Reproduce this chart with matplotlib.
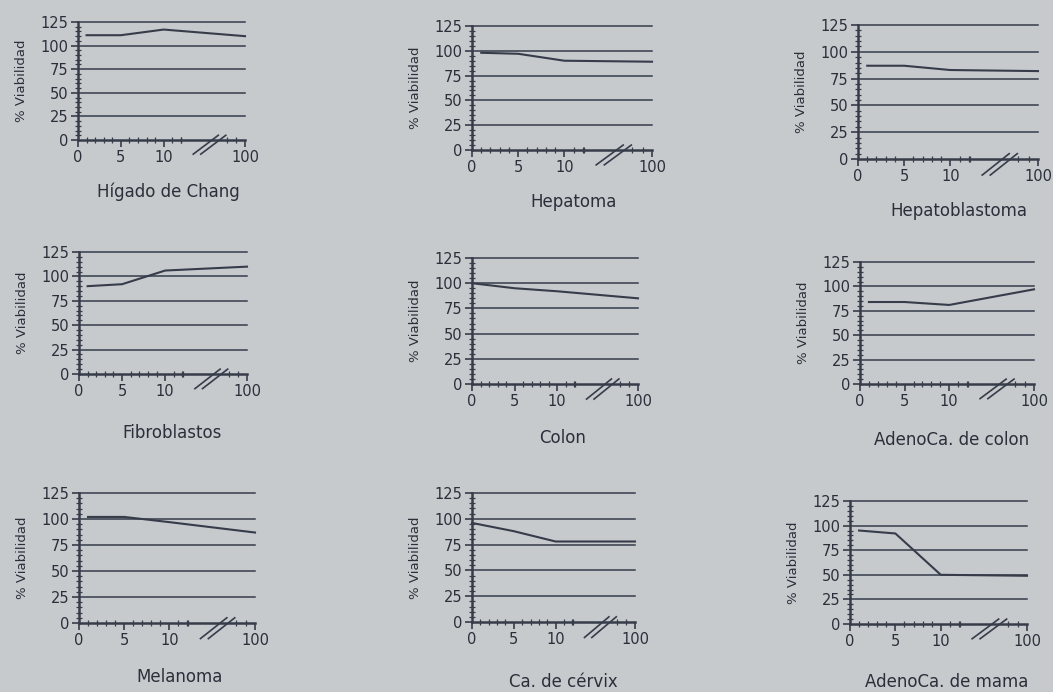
import matplotlib
matplotlib.use("Agg")
import matplotlib.pyplot as plt
import numpy as np

# cell lines and viability (%) versus dose
titles = ["Hígado de Chang", "Hepatoma", "Hepatoblastoma",
          "Fibroblastos", "Colon", "AdenoCa. de colon",
          "Melanoma", "Ca. de cérvix", "AdenoCa. de mama"]

doses = {
    "Hígado de Chang": [1, 5, 10, 100],
    "Hepatoma": [1, 5, 10, 100],
    "Hepatoblastoma": [1, 5, 10, 100],
    "Fibroblastos": [1, 5, 10, 100],
    "Colon": [0, 5, 10, 100],
    "AdenoCa. de colon": [1, 5, 10, 100],
    "Melanoma": [1, 5, 10, 100],
    "Ca. de cérvix": [0, 5, 10, 100],
    "AdenoCa. de mama": [1, 5, 10, 100],
}
viability = {
    "Hígado de Chang": [111, 111, 117, 110],
    "Hepatoma": [98, 97, 90, 89],
    "Hepatoblastoma": [87, 87, 83, 82],
    "Fibroblastos": [90, 92, 106, 110],
    "Colon": [100, 95, 92, 85],
    "AdenoCa. de colon": [84, 84, 81, 97],
    "Melanoma": [102, 102, 97, 87],
    "Ca. de cérvix": [96, 88, 78, 78],
    "AdenoCa. de mama": [95, 92, 50, 49],
}
y_major = [0, 25, 50, 75, 100, 125]
x_major = [0, 5, 10, 100]
x_minor = list(range(1, 14)) + [75, 88]

# panel boxes in pixels: left, top (y=125), right (x=100), bottom (y=0)
boxes = [(78, 22, 245, 140), (472, 26, 652, 150), (858, 25, 1038, 159),
         (79, 252, 247, 374), (472, 258, 638, 384), (860, 262, 1034, 384),
         (79, 493, 255, 623), (472, 493, 635, 622), (850, 501, 1027, 624)]
title_pos = [(168, 192), (574, 202), (959, 211),
             (172, 433), (563, 438), (952, 440),
             (180, 677), (563, 682), (947, 682)]

W, H = 1053, 692
bg = "#c7cacd"
ink = "#2a2f3a"
line_c = "#363c4a"

plt.rcParams["font.family"] = "DejaVu Sans"


def fwd(x):
    x = np.asarray(x, dtype=float)
    return np.where(x <= 12, x, 12 + (x - 12) * 7.5 / 88)


def inv(x):
    x = np.asarray(x, dtype=float)
    return np.where(x <= 12, x, 12 + (x - 12) * 88 / 7.5)


fig = plt.figure(figsize=(W / 100, H / 100), dpi=100, facecolor=bg)

for name, (l, t, r, b), (tx, ty) in zip(titles, boxes, title_pos):
    ax = fig.add_axes([l / W, 1 - b / H, (r - l) / W, (b - t) / H])
    ax.set_facecolor("none")
    ax.set_xscale("function", functions=(fwd, inv))
    ax.set_xlim(0, 100)
    ax.set_ylim(0, 125)

    for s in ["top", "right"]:
        ax.spines[s].set_visible(False)
    for s in ["left", "bottom"]:
        ax.spines[s].set_color(line_c)
        ax.spines[s].set_linewidth(1.8)

    # horizontal reference lines
    for yv in y_major[1:]:
        ax.axhline(yv, color=line_c, lw=1.1, clip_on=False)

    ax.plot(doses[name], viability[name], color=line_c, lw=1.5, clip_on=False)

    ax.set_yticks(y_major)
    ax.set_yticks(np.arange(0, 126, 5), minor=True)
    ax.set_xticks(x_major)
    ax.set_xticklabels([str(v) for v in x_major])
    ax.set_xticks(x_minor, minor=True)
    ax.tick_params(axis="both", which="major", direction="out", length=5,
                   width=1.2, color=line_c, labelcolor=ink, labelsize=10.5, pad=2)
    ax.tick_params(axis="both", which="minor", direction="inout", length=4,
                   width=0.9, color=line_c)

    ax.set_ylabel("% Viabilidad", fontsize=9.5, color=ink)
    ax.yaxis.set_label_coords(-50 / (r - l), 0.5)

    # axis break marks
    for dx in (0.0, 0.045):
        ax.plot([0.69 + dx, 0.84 + dx], [-0.12, 0.04], transform=ax.transAxes,
                color=line_c, lw=1.2, clip_on=False)

    fig.text(tx / W, 1 - ty / H, name, ha="center", va="center",
             fontsize=12, color=ink)

fig.savefig("out.png", dpi=100, facecolor=bg)
